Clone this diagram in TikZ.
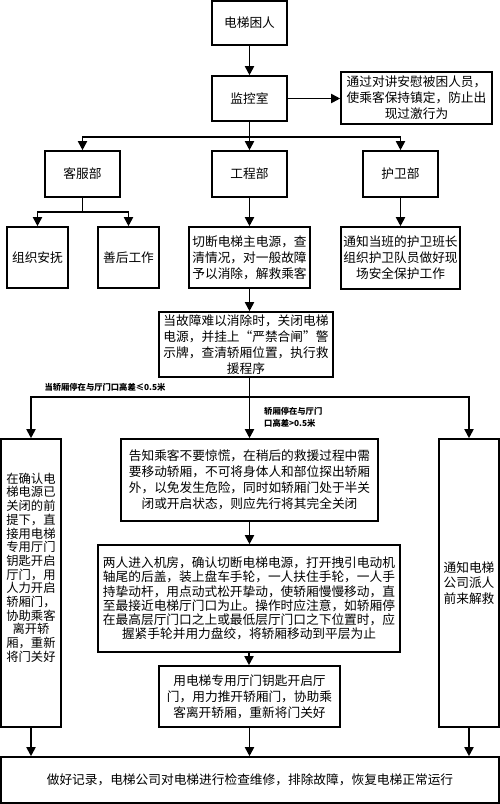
\documentclass[tikz,border=0pt]{standalone}
\usepackage{fontspec}
\newfontfamily\cjk{Noto Sans CJK SC}
\usetikzlibrary{arrows.meta}
\begin{document}
\begin{tikzpicture}[x=1pt,y=-1pt,
 box/.style={draw,line width=1.6pt,inner sep=0pt,align=center,font=\cjk\fontsize{12.7}{16}\selectfont},
 narrow/.style={font=\cjk\fontsize{12.3}{13.7}\selectfont},
 arr/.style={line width=1.8pt,-{Triangle[width=9pt,length=9pt]}},
 ln/.style={line width=1.8pt},
 lab/.style={font=\cjk\bfseries\fontsize{8.3}{12}\selectfont,inner sep=0pt}]
\useasboundingbox (0,0) rectangle (500,804);
% top chain
\node[box,minimum width=75pt,minimum height=44pt] (n1) at (249.5,23) {电梯困人};
\node[box,minimum width=75pt,minimum height=45pt] (n2) at (249.5,98.5) {监控室};
\node[box,minimum width=151pt,minimum height=52pt] (n3) at (416.5,98) {通过对讲安慰被困人员，\\使乘客保持镇定，防止出\\现过激行为};
% departments
\node[box,minimum width=75pt,minimum height=46pt] (kefu) at (82.5,174) {客服部};
\node[box,minimum width=75pt,minimum height=46pt] (gong) at (249.5,174) {工程部};
\node[box,minimum width=75pt,minimum height=46pt] (huwei) at (400.5,174) {护卫部};
% second level
\node[box,minimum width=61pt,minimum height=61pt] (zuzhi) at (37.5,257.5) {组织安抚};
\node[box,minimum width=61pt,minimum height=61pt] (shanhou) at (128.5,257.5) {善后工作};
\node[box,minimum width=121pt,minimum height=61pt] (qieduan) at (249.5,257.5) {切断电梯主电源，查\\清情况，对一般故障\\予以消除，解救乘客};
\node[box,minimum width=119pt,minimum height=62pt] (tongzhi) at (400.5,258) {通知当班的护卫班长\\组织护卫队员做好现\\场安全保护工作};
% fault box
\node[box,minimum width=174pt,minimum height=65pt] (guzhang) at (246,344.5) {当故障难以消除时，关闭电梯\\电源，并挂上“严禁合闸”警\\示牌，查清轿厢位置，执行救\\援程序};
% three branches
\node[box,narrow,minimum width=60pt,minimum height=288pt] (lt) at (31,583) {在确认电\\梯电源已\\关闭的前\\提下，直\\接用电梯\\专用厅门\\钥匙开启\\厅门，用\\人力开启\\轿厢门，\\协助乘客\\离开轿\\厢，重新\\将门关好\\[18pt]};
\node[box,minimum width=257pt,minimum height=82pt] (gaozhi) at (249.5,480) {告知乘客不要惊慌，在稍后的救援过程中需\\要移动轿厢，不可将身体人和部位探出轿厢\\外，以免发生危险，同时如轿厢门处于半关\\闭或开启状态，则应先行将其完全关闭};
\node[box,font=\cjk\fontsize{12.7}{14.2}\selectfont,minimum width=302pt,minimum height=107pt] (liangren) at (249,598.5) {两人进入机房，确认切断电梯电源，打开拽引电动机\\轴尾的后盖，装上盘车手轮，一人扶住手轮，一人手\\持挚动杆，用点动式松开挚动，使轿厢慢慢移动，直\\至最接近电梯厅门口为止。操作时应注意，如轿厢停\\在最高层厅门口之上或最低层厅门口之下位置时，应\\握紧手轮并用力盘绞，将轿厢移动到平层为止};
\node[box,minimum width=181pt,minimum height=61pt] (yong) at (249.5,696.5) {用电梯专用厅门钥匙开启厅\\门，用力推开轿厢门，协助乘\\客离开轿厢，重新将门关好};
\node[box,font=\cjk\fontsize{12.7}{15.5}\selectfont,minimum width=60pt,minimum height=288pt] (rt) at (469,583) {通知电梯\\公司派人\\前来解救};
\node[box,minimum width=498pt,minimum height=46pt] (bot) at (250,780) {做好记录，电梯公司对电梯进行检查维修，排除故障，恢复电梯正常运行};
% labels
\node[lab] (l1) at (105,387) {当轿厢停在与厅门口高差≤0.5米};
\node[lab,anchor=west,align=left] (l2) at (264,417) {轿厢停在与厅门\\口高差>0.5米};
% connectors
\coordinate (b1) at (249.5,137);
\coordinate (b2) at (82.5,212);
\coordinate (b3) at (249.5,397);
\draw[arr] (n1) -- (n2);
\draw[arr] (n2.east) -- (n2.east -| n3.west);
\draw[ln] (n2.south) -- (b1);
\draw[arr] (b1) -| (kefu.north);
\draw[arr] (b1) -| (huwei.north);
\draw[arr] (b1) -- (gong.north);
\draw[ln] (kefu.south) -- (b2);
\draw[arr] (b2) -| (zuzhi.north);
\draw[arr] (b2) -| (shanhou.north);
\draw[arr] (gong.south) -- (qieduan.north);
\draw[arr] (huwei.south) -- (tongzhi.north);
\draw[arr] (qieduan.south) -- (qieduan.south |- guzhang.north);
\draw[ln] (guzhang.south -| b3) -- (b3);
\draw[arr] (b3) -| (lt.north);
\draw[arr] (b3) -| (rt.north);
\draw[arr] (b3) -- (gaozhi.north);
\draw[arr] (gaozhi.south) -- (gaozhi.south |- liangren.north);
\draw[arr] (liangren.south) -- (liangren.south |- yong.north);
\draw[arr] (yong.south) -- (yong.south |- bot.north);
\draw[arr] (lt.south) -- (lt.south |- bot.north);
\draw[arr] (rt.south) -- (rt.south |- bot.north);
\end{tikzpicture}
\end{document}
